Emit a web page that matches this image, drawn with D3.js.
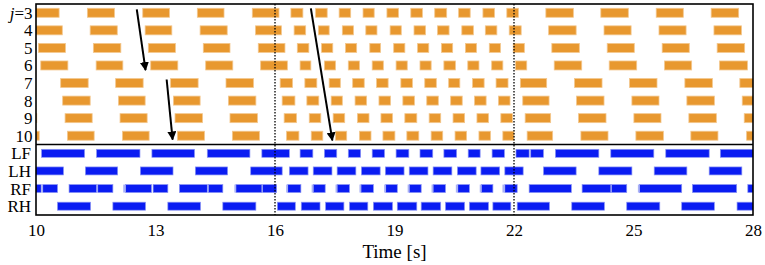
<!DOCTYPE html>
<html>
<head>
<meta charset="utf-8">
<script src="https://cdn.jsdelivr.net/npm/d3@7"></script>
<style>
  body { margin: 0; background: #fff; }
  svg { display: block; font-family: "Liberation Serif", "Times New Roman", serif; }
</style>
</head>
<body>
<div id="chart"></div>
<script>
// segment rows (top panel) and legs (bottom panel)
const segRows = [3, 4, 5, 6, 7, 8, 9, 10]
const legRows = ["LF", "LH", "RF", "RH"]
const timeTicks = [10, 13, 16, 19, 22, 25, 28]
const switchTimes = [16, 22]

// [start, end] in seconds
const segBars = {
  3: [[9.91,10.58],[11.29,11.97],[12.68,13.35],[14.05,14.72],[15.43,16.10],[16.40,16.70],[17.02,17.31],[17.61,17.90],[18.21,18.49],[18.81,19.10],[19.41,19.70],[20.01,20.31],[20.61,20.90],[21.22,21.51],[21.82,22.11],[22.80,23.49],[24.18,24.87],[25.57,26.25],[26.95,27.64]],
  4: [[9.98,10.66],[11.36,12.04],[12.74,13.41],[14.12,14.80],[15.51,16.16],[16.48,16.77],[17.09,17.36],[17.69,17.97],[18.28,18.56],[18.89,19.17],[19.49,19.78],[20.08,20.37],[20.69,20.98],[21.28,21.57],[21.88,22.18],[22.87,23.56],[24.26,24.94],[25.64,26.32],[27.02,27.71]],
  5: [[10.06,10.74],[11.44,12.13],[12.82,13.50],[14.20,14.87],[15.58,16.25],[16.56,16.85],[17.17,17.45],[17.77,18.05],[18.38,18.65],[18.98,19.26],[19.58,19.86],[20.18,20.46],[20.78,21.06],[21.38,21.66],[21.98,22.26],[22.95,23.64],[24.34,25.02],[25.72,26.40],[27.10,27.79]],
  6: [[10.12,10.80],[11.51,12.18],[12.88,13.56],[14.26,14.94],[15.64,16.31],[16.63,16.90],[17.24,17.52],[17.84,18.12],[18.44,18.72],[19.04,19.32],[19.64,19.92],[20.24,20.53],[20.84,21.12],[21.44,21.72],[22.04,22.32],[23.01,23.70],[24.39,25.08],[25.78,26.46],[27.16,27.86]],
  7: [[10.62,11.31],[12.00,12.69],[13.38,14.07],[14.77,15.46],[16.13,16.44],[16.75,17.05],[17.36,17.64],[17.95,18.24],[18.55,18.84],[19.16,19.45],[19.76,20.05],[20.36,20.64],[20.96,21.25],[21.55,21.85],[22.16,22.82],[23.52,24.21],[24.90,25.59],[26.29,26.98],[27.67,28.36]],
  8: [[10.67,11.36],[12.07,12.74],[13.45,14.12],[14.83,15.52],[16.18,16.50],[16.80,17.10],[17.41,17.69],[18.01,18.30],[18.61,18.90],[19.21,19.50],[19.81,20.10],[20.41,20.70],[21.01,21.30],[21.61,21.90],[22.22,22.88],[23.57,24.26],[24.96,25.64],[26.34,27.03],[27.73,28.40]],
  9: [[9.34,10.02],[10.73,11.41],[12.11,12.79],[13.49,14.18],[14.87,15.56],[16.23,16.54],[16.86,17.15],[17.46,17.75],[18.07,18.36],[18.66,18.95],[19.26,19.56],[19.87,20.16],[20.47,20.76],[21.07,21.36],[21.67,21.96],[22.28,22.92],[23.62,24.31],[25.01,25.69],[26.39,27.08],[27.78,28.46]],
  10: [[9.40,10.08],[10.79,11.46],[12.17,12.84],[13.55,14.23],[14.93,15.61],[16.29,16.60],[16.91,17.20],[17.52,17.80],[18.12,18.41],[18.71,19.01],[19.31,19.61],[19.92,20.21],[20.52,20.81],[21.12,21.41],[21.72,22.00],[22.33,22.97],[23.68,24.36],[25.06,25.75],[26.44,27.12],[27.84,28.50]]
}

const legBars = {
  LF: [[10.14,11.22],[11.52,12.61],[12.91,13.98],[14.30,15.37],[15.67,16.36],[16.63,16.95],[17.24,17.55],[17.84,18.15],[18.44,18.75],[19.04,19.36],[19.64,19.96],[20.24,20.56],[20.85,21.15],[21.45,21.76],[22.05,22.38],[22.42,22.74],[23.04,24.13],[24.43,25.51],[25.81,26.90],[27.18,28.26]],
  LH: [[9.90,10.69],[11.24,12.05],[12.62,13.44],[14.00,14.81],[15.39,16.18],[16.36,16.83],[16.96,17.43],[17.56,18.03],[18.17,18.64],[18.77,19.24],[19.37,19.84],[19.97,20.44],[20.58,21.05],[21.17,21.64],[21.77,22.23],[22.74,23.56],[24.13,24.96],[25.52,26.34],[26.90,27.72]],
  RF: [[9.98,10.13],[10.17,10.54],[10.83,11.52],[11.55,11.93],[12.25,12.90],[12.94,13.31],[13.60,14.30],[14.33,14.69],[15.02,15.67],[15.69,16.04],[16.32,16.65],[16.96,17.26],[17.56,17.87],[18.16,18.47],[18.78,19.07],[19.37,19.67],[19.97,20.28],[20.59,20.88],[21.18,21.47],[21.77,22.08],[22.38,23.44],[23.71,24.43],[24.45,24.83],[25.15,26.21],[26.48,27.59],[27.87,28.50]],
  RH: [[10.54,11.37],[11.93,12.75],[13.31,14.13],[14.69,15.52],[16.06,16.51],[16.66,17.13],[17.27,17.73],[17.87,18.33],[18.47,18.95],[19.07,19.56],[19.67,20.16],[20.28,20.76],[20.88,21.36],[21.47,21.92],[22.08,22.89],[23.45,24.27],[24.83,25.66],[26.21,27.03],[27.60,28.42]]
}

// faint slivers in front of some RF bars
const rfFaint = [[12.19,12.24],[14.98,15.02],[16.28,16.32],[16.92,16.96],[17.52,17.56],[18.12,18.16],[18.74,18.78],[19.33,19.37],[19.93,19.97],[20.54,20.59],[21.14,21.18],[21.71,21.77],[25.11,25.15]]

// arrows: [t0, j0, t1, j1]
const arrows = [
  [12.53, 2.80, 12.75, 6.27],
  [13.28, 6.80, 13.43, 10.22],
  [16.90, 2.75, 17.44, 10.27]
]

const width = 765
const height = 265
const left = 36, right = 753
const topY = 4, midY = 144.5, botY = 215

const x = d3.scaleLinear().domain([10, 28]).range([left, right])
const ySeg = d3.scaleBand().domain(segRows).range([topY, midY])
const yLeg = d3.scaleBand().domain(legRows).range([midY, botY])
const yJ = d3.scaleLinear()
  .domain([3, 10])
  .range([ySeg(3) + ySeg.bandwidth() / 2, ySeg(10) + ySeg.bandwidth() / 2])

const svg = d3.select("#chart").append("svg")
  .attr("width", width)
  .attr("height", height)

const defs = svg.append("defs")
defs.append("clipPath").attr("id", "plot-clip")
  .append("rect")
  .attr("x", left).attr("y", topY)
  .attr("width", right - left).attr("height", botY - topY)

defs.append("marker")
  .attr("id", "arrowhead")
  .attr("viewBox", "0 0 10 10")
  .attr("refX", 9).attr("refY", 5)
  .attr("markerWidth", 4.5).attr("markerHeight", 4.5)
  .attr("orient", "auto")
  .append("path")
  .attr("d", "M0,0 L10,5 L0,10 z")
  .attr("fill", "#000")

const plot = svg.append("g").attr("clip-path", "url(#plot-clip)")

const orangeH = 9
const blueH = 8

segRows.forEach(j => {
  const cy = ySeg(j) + ySeg.bandwidth() / 2
  plot.append("g").selectAll("rect")
    .data(segBars[j])
    .join("rect")
    .attr("x", d => x(d[0]))
    .attr("width", d => x(d[1]) - x(d[0]))
    .attr("y", cy - orangeH / 2)
    .attr("height", orangeH)
    .attr("fill", "#e8982f")
    .attr("stroke", "#f3c78e")
    .attr("stroke-width", 0.8)
})

legRows.forEach(leg => {
  const cy = yLeg(leg) + yLeg.bandwidth() / 2
  plot.append("g").selectAll("rect")
    .data(legBars[leg])
    .join("rect")
    .attr("x", d => x(d[0]))
    .attr("width", d => x(d[1]) - x(d[0]))
    .attr("y", cy - blueH / 2)
    .attr("height", blueH)
    .attr("fill", "#0a1cf2")
    .attr("stroke", "#8a94f4")
    .attr("stroke-width", 0.7)
})

const rfY = yLeg("RF") + yLeg.bandwidth() / 2
plot.append("g").selectAll("rect")
  .data(rfFaint)
  .join("rect")
  .attr("x", d => x(d[0]))
  .attr("width", d => x(d[1]) - x(d[0]))
  .attr("y", rfY - blueH / 2)
  .attr("height", blueH)
  .attr("fill", "#aab2f6")

// dotted switch lines
svg.append("g").selectAll("line")
  .data(switchTimes)
  .join("line")
  .attr("x1", d => x(d)).attr("x2", d => x(d))
  .attr("y1", topY).attr("y2", botY)
  .attr("stroke", "#000")
  .attr("stroke-width", 1.3)
  .attr("stroke-dasharray", "1.5,1.5")

// wave arrows
svg.append("g").selectAll("line")
  .data(arrows)
  .join("line")
  .attr("x1", d => x(d[0])).attr("y1", d => yJ(d[1]))
  .attr("x2", d => x(d[2])).attr("y2", d => yJ(d[3]))
  .attr("stroke", "#000")
  .attr("stroke-width", 2)
  .attr("marker-end", "url(#arrowhead)")

// frames
svg.append("rect")
  .attr("x", left).attr("y", topY)
  .attr("width", right - left).attr("height", botY - topY)
  .attr("fill", "none")
  .attr("stroke", "#000")
  .attr("stroke-width", 1.6)
svg.append("line")
  .attr("x1", left).attr("x2", right)
  .attr("y1", midY).attr("y2", midY)
  .attr("stroke", "#000")
  .attr("stroke-width", 1.6)

// row labels
const segLabels = svg.append("g")
  .attr("font-size", 17)
  .attr("text-anchor", "end")
segLabels.selectAll("text")
  .data(segRows)
  .join("text")
  .attr("x", 32.5)
  .attr("y", j => ySeg(j) + ySeg.bandwidth() / 2)
  .attr("dy", "0.35em")
  .each(function(j) {
    const t = d3.select(this)
    if (j === 3) {
      t.append("tspan").attr("font-style", "italic").text("j")
      t.append("tspan").text("=3")
    } else {
      t.text(j)
    }
  })

svg.append("g")
  .attr("font-size", 17)
  .attr("text-anchor", "end")
  .selectAll("text")
  .data(legRows)
  .join("text")
  .attr("x", 31)
  .attr("y", d => yLeg(d) + yLeg.bandwidth() / 2)
  .attr("dy", "0.35em")
  .text(d => d)

// time axis
const axis = svg.append("g")
  .attr("transform", `translate(0,${botY})`)
  .call(d3.axisBottom(x).tickValues(timeTicks).tickSize(0).tickPadding(9))
axis.select(".domain").remove()
axis.selectAll("text")
  .attr("font-family", "Liberation Serif, Times New Roman, serif")
  .attr("font-size", 17)
  .attr("fill", "#000")

svg.append("text")
  .attr("x", x(19))
  .attr("y", 258)
  .attr("text-anchor", "middle")
  .attr("font-size", 19)
  .text("Time [s]")
</script>
</body>
</html>
